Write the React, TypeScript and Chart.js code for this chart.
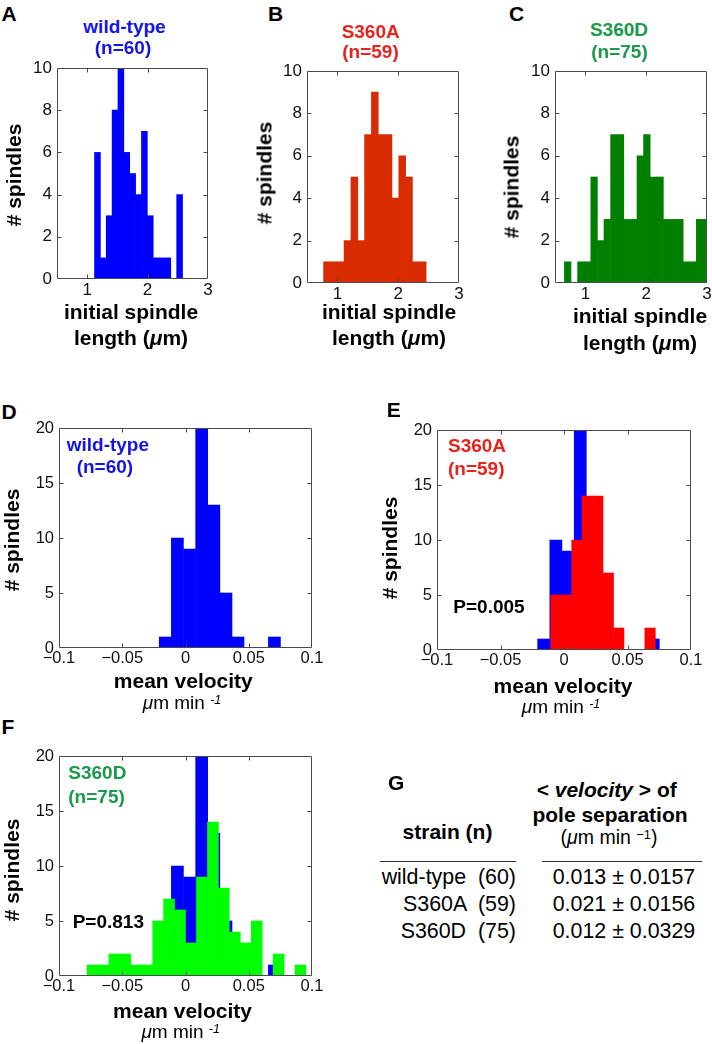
import React, { useEffect, useRef } from 'react';
import { Chart, registerables } from 'chart.js';

Chart.register(...registerables);

const FONT = "'Liberation Sans', Arial, Helvetica, sans-serif";

// ---------------- data: initial spindle length (panels A–C) ----------------
const LENGTH_X_TICKS = [1, 2, 3];
const LENGTH_X_LABELS = ['1', '2', '3'];
const LENGTH_Y_TICKS = [0, 2, 4, 6, 8, 10];

const WT_LENGTH_BINS = [1.170, 1.267, 1.364, 1.461, 1.558, 1.655, 1.753, 1.850, 1.947, 2.044, 2.141, 2.238, 2.335, 2.432, 2.530];
const WT_LENGTH_COUNTS = [6, 1, 3, 8, 10, 6, 5, 4, 7, 3, 1, 1, 1, 0, 4];

const S360A_LENGTH_BINS = [0.829, 0.941, 1.054, 1.166, 1.279, 1.391, 1.503, 1.616, 1.728, 1.841, 1.953, 2.066, 2.178, 2.290, 2.403];
const S360A_LENGTH_COUNTS = [1, 1, 1, 2, 5, 2, 7, 9, 7, 7, 4, 6, 5, 1, 1];

const S360D_LENGTH_BINS = [0.709, 0.818, 0.926, 1.035, 1.143, 1.252, 1.360, 1.469, 1.577, 1.686, 1.794, 1.903, 2.011, 2.120, 2.228, 2.337, 2.445, 2.554, 2.662, 2.771, 2.879, 2.988];
const S360D_LENGTH_COUNTS = [1, 0, 1, 1, 5, 2, 3, 7, 7, 3, 3, 6, 7, 5, 5, 3, 3, 3, 1, 1, 3, 3];

// ---------------- data: mean velocity (panels D–F) ----------------
const VELOCITY_X_TICKS = [-0.1, -0.05, 0, 0.05, 0.1];
const VELOCITY_X_LABELS = ['\u22120.1', '\u22120.05', '0', '0.05', '0.1'];
const VELOCITY_Y_TICKS = [0, 5, 10, 15, 20];

const WT_VELOCITY_BINS = [-0.0160, -0.0064, 0.0032, 0.0128, 0.0224, 0.0320, 0.0415, 0.0511, 0.0607, 0.0703];
const WT_VELOCITY_COUNTS = [1, 10, 9, 20, 13, 5, 1, 0, 0, 1];

const S360A_VELOCITY_BINS = [-0.0063, 0.0019, 0.0102, 0.0184, 0.0266, 0.0349, 0.0431, 0.0513, 0.0596, 0.0678];
const S360A_VELOCITY_COUNTS = [5, 5, 10, 14, 14, 7, 2, 0, 0, 2];

const S360D_VELOCITY_BINS = [-0.0735, -0.0649, -0.0562, -0.0476, -0.0389, -0.0303, -0.0216, -0.0130, -0.0043, 0.0044, 0.0130, 0.0217, 0.0303, 0.0390, 0.0476, 0.0563, 0.0649, 0.0736, 0.0822, 0.0909];
const S360D_VELOCITY_COUNTS = [1, 1, 2, 2, 1, 1, 5, 7, 6, 3, 9, 14, 8, 4, 3, 5, 0, 2, 0, 1];

// ---------------- data: table G ----------------
const STRAINS = ['wild-type', 'S360A', 'S360D'];
const STRAIN_N = [60, 59, 75];
const MEAN_VELOCITY = ['0.013', '0.021', '0.012'];
const SD_VELOCITY = ['0.0157', '0.0156', '0.0329'];

// ---------------- styling ----------------
const BLUE = '#0000ff';
const ORANGE_RED = '#d82b00';
const DARK_GREEN = '#007f00';
const RED = '#ff0000';
const LIME = '#00ff00';
const TXT_BLUE = '#1414e6';
const TXT_RED = '#e8231c';
const TXT_GREEN = '#1a9a4a';

const YW = 40;
const PT = 22;
const PR = 22;
const XH = 30;

type Rect = { l: number; t: number; r: number; b: number };
type Series = { bins: number[]; counts: number[]; color: string };

function framePlugin(xTicks: number[], yTicks: number[]) {
  return {
    id: 'matlabFrame',
    afterDatasetsDraw(chart: any) {
      const { ctx, chartArea } = chart;
      const xs = chart.scales.x0;
      const ys = chart.scales.y;
      const L = Math.round(chartArea.left) + 0.5;
      const R = Math.round(chartArea.right) - 0.5;
      const T = Math.round(chartArea.top) + 0.5;
      const B = Math.round(chartArea.bottom) - 0.5;
      const len = 4;
      ctx.save();
      ctx.strokeStyle = '#4a4a4a';
      ctx.lineWidth = 1;
      ctx.beginPath();
      ctx.rect(L, T, R - L, B - T);
      xTicks.forEach((v) => {
        const p = Math.round(xs.getPixelForValue(v)) + 0.5;
        if (p > L + 1 && p < R - 1) {
          ctx.moveTo(p, B);
          ctx.lineTo(p, B - len);
          ctx.moveTo(p, T);
          ctx.lineTo(p, T + len);
        }
      });
      yTicks.forEach((v) => {
        const p = Math.round(ys.getPixelForValue(v)) + 0.5;
        if (p > T + 1 && p < B - 1) {
          ctx.moveTo(L, p);
          ctx.lineTo(L + len, p);
          ctx.moveTo(R, p);
          ctx.lineTo(R - len, p);
        }
      });
      ctx.stroke();
      ctx.restore();
    },
  };
}

function Histogram(props: {
  rect: Rect;
  xMin: number;
  xMax: number;
  xTicks: number[];
  xLabels: string[];
  yMax: number;
  yTicks: number[];
  series: Series[];
  tickSize: number;
}) {
  const { rect, xMin, xMax, xTicks, xLabels, yMax, yTicks, series, tickSize } = props;
  const ref = useRef<HTMLCanvasElement>(null);
  const width = rect.r - rect.l + YW + PR;
  const height = rect.b - rect.t + PT + XH;

  useEffect(() => {
    const scales: any = {};
    series.forEach((_s, i) => {
      scales['x' + i] = {
        type: 'linear',
        position: 'bottom',
        display: i === 0,
        min: xMin,
        max: xMax,
        offset: false,
        afterBuildTicks: (ax: any) => {
          ax.ticks = xTicks.map((v) => ({ value: v }));
        },
        afterFit: (ax: any) => {
          ax.height = i === 0 ? XH : 0;
        },
        grid: { display: false, drawTicks: false, offset: false },
        border: { display: false },
        ticks: {
          padding: 1,
          color: '#111',
          autoSkip: false,
          maxRotation: 0,
          minRotation: 0,
          font: { family: FONT, size: tickSize },
          callback: (_v: any, idx: number) => xLabels[idx],
        },
      };
    });
    scales.y = {
      type: 'linear',
      position: 'left',
      min: 0,
      max: yMax,
      afterBuildTicks: (ax: any) => {
        ax.ticks = yTicks.map((v) => ({ value: v }));
      },
      afterFit: (ax: any) => {
        ax.width = YW;
      },
      grid: { display: false, drawTicks: false },
      border: { display: false },
      ticks: {
        padding: 5,
        color: '#111',
        font: { family: FONT, size: tickSize },
        callback: (v: any) => String(v),
      },
    };

    const chart = new Chart(ref.current as HTMLCanvasElement, {
      type: 'bar',
      data: {
        datasets: series.map((s, i) => ({
          data: s.bins.map((x, j) => ({ x, y: s.counts[j] })),
          backgroundColor: s.color,
          borderWidth: 0,
          barPercentage: 1,
          categoryPercentage: 1,
          grouped: false,
          xAxisID: 'x' + i,
          yAxisID: 'y',
          order: i,
          clip: 0,
        })) as any,
      },
      options: {
        responsive: false,
        animation: false,
        events: [],
        layout: { padding: { top: PT, right: PR, left: 0, bottom: 0 } },
        plugins: {
          legend: { display: false },
          tooltip: { enabled: false },
          title: { display: false },
        },
        scales,
      } as any,
      plugins: [framePlugin(xTicks, yTicks)],
    });
    return () => chart.destroy();
  }, []);

  return (
    <canvas
      ref={ref}
      width={width}
      height={height}
      style={{ position: 'absolute', left: rect.l - YW, top: rect.t - PT, width, height }}
    />
  );
}

function Txt(props: {
  x: number;
  y: number;
  size: number;
  align?: 'left' | 'center' | 'right';
  bold?: boolean;
  color?: string;
  children: React.ReactNode;
}) {
  const { x, y, size, align = 'left', bold = false, color = '#000', children } = props;
  const tx = align === 'center' ? '-50%' : align === 'right' ? '-100%' : '0';
  return (
    <div
      style={{
        position: 'absolute',
        left: x,
        top: y - 0.8465 * size,
        fontSize: size,
        lineHeight: `${size}px`,
        fontWeight: bold ? 'bold' : 'normal',
        color,
        fontFamily: FONT,
        whiteSpace: 'pre',
        transform: `translateX(${tx})`,
      }}
    >
      {children}
    </div>
  );
}

function YTitle(props: { cx: number; cy: number; children: React.ReactNode }) {
  return (
    <div
      style={{
        position: 'absolute',
        left: props.cx,
        top: props.cy,
        transform: 'translate(-50%, -50%) rotate(-90deg)',
        fontSize: 21,
        lineHeight: '21px',
        fontWeight: 'bold',
        fontFamily: FONT,
        whiteSpace: 'nowrap',
        color: '#000',
      }}
    >
      {props.children}
    </div>
  );
}

const Sup = (props: { children: React.ReactNode; italic?: boolean }) => (
  <span
    style={{
      position: 'relative',
      top: '-0.45em',
      fontSize: '0.66em',
      fontStyle: props.italic ? 'italic' : 'normal',
    }}
  >
    {props.children}
  </span>
);

const VelUnits = () => (
  <>
    <i>μ</i>m min <Sup italic>-1</Sup>
  </>
);

const RECT_A: Rect = { l: 57, t: 68, r: 208, b: 279 };
const RECT_B: Rect = { l: 307, t: 71, r: 459, b: 283 };
const RECT_C: Rect = { l: 555, t: 71, r: 707, b: 283 };
const RECT_D: Rect = { l: 59, t: 428, r: 312, b: 648 };
const RECT_E: Rect = { l: 437, t: 430, r: 691, b: 650 };
const RECT_F: Rect = { l: 59, t: 756, r: 312, b: 976 };

export default function App() {
  const lengthAxis = {
    xMin: 0.5,
    xMax: 3,
    xTicks: LENGTH_X_TICKS,
    xLabels: LENGTH_X_LABELS,
    yMax: 10,
    yTicks: LENGTH_Y_TICKS,
    tickSize: 17,
  };
  const velocityAxis = {
    xMin: -0.1,
    xMax: 0.1,
    xTicks: VELOCITY_X_TICKS,
    xLabels: VELOCITY_X_LABELS,
    yMax: 20,
    yTicks: VELOCITY_Y_TICKS,
    tickSize: 16.5,
  };
  const wtVel: Series = { bins: WT_VELOCITY_BINS, counts: WT_VELOCITY_COUNTS, color: BLUE };

  return (
    <div
      style={{
        position: 'absolute',
        left: 0,
        top: 0,
        width: 712,
        height: 1044,
        overflow: 'hidden',
        background: '#fff',
        fontFamily: FONT,
      }}
    >
      <Histogram rect={RECT_A} {...lengthAxis} series={[{ bins: WT_LENGTH_BINS, counts: WT_LENGTH_COUNTS, color: BLUE }]} />
      <Histogram rect={RECT_B} {...lengthAxis} series={[{ bins: S360A_LENGTH_BINS, counts: S360A_LENGTH_COUNTS, color: ORANGE_RED }]} />
      <Histogram rect={RECT_C} {...lengthAxis} series={[{ bins: S360D_LENGTH_BINS, counts: S360D_LENGTH_COUNTS, color: DARK_GREEN }]} />
      <Histogram rect={RECT_D} {...velocityAxis} series={[wtVel]} />
      <Histogram
        rect={RECT_E}
        {...velocityAxis}
        series={[{ bins: S360A_VELOCITY_BINS, counts: S360A_VELOCITY_COUNTS, color: RED }, wtVel]}
      />
      <Histogram
        rect={RECT_F}
        {...velocityAxis}
        series={[{ bins: S360D_VELOCITY_BINS, counts: S360D_VELOCITY_COUNTS, color: LIME }, wtVel]}
      />

      {/* panel letters */}
      <Txt x={1.5} y={20.7} size={21} bold>A</Txt>
      <Txt x={268} y={20.7} size={21} bold>B</Txt>
      <Txt x={509} y={20.7} size={21} bold>C</Txt>
      <Txt x={1.5} y={418.3} size={21} bold>D</Txt>
      <Txt x={386.7} y={416.7} size={21} bold>E</Txt>
      <Txt x={1.5} y={733.3} size={21} bold>F</Txt>
      <Txt x={388} y={789.3} size={21} bold>G</Txt>

      {/* titles A–C */}
      <Txt x={124.5} y={33.5} size={19} bold align="center" color={TXT_BLUE}>wild-type</Txt>
      <Txt x={123} y={54.5} size={19} bold align="center" color={TXT_BLUE}>(n=60)</Txt>
      <Txt x={370.7} y={38} size={19} bold align="center" color={TXT_RED}>S360A</Txt>
      <Txt x={370.5} y={58} size={19} bold align="center" color={TXT_RED}>(n=59)</Txt>
      <Txt x={619} y={36.5} size={19} bold align="center" color={TXT_GREEN}>S360D</Txt>
      <Txt x={619.5} y={58} size={19} bold align="center" color={TXT_GREEN}>(n=75)</Txt>

      {/* x titles A–C */}
      <Txt x={131} y={318.5} size={21} bold align="center">initial spindle</Txt>
      <Txt x={131} y={345} size={21} bold align="center">length (<i>μ</i>m)</Txt>
      <Txt x={389} y={318.5} size={21} bold align="center">initial spindle</Txt>
      <Txt x={389} y={345} size={21} bold align="center">length (<i>μ</i>m)</Txt>
      <Txt x={640} y={322.5} size={21} bold align="center">initial spindle</Txt>
      <Txt x={640} y={350} size={21} bold align="center">length (<i>μ</i>m)</Txt>

      {/* y titles */}
      <YTitle cx={13} cy={175}># spindles</YTitle>
      <YTitle cx={264} cy={173}># spindles</YTitle>
      <YTitle cx={511} cy={186.7}># spindles</YTitle>
      <YTitle cx={11} cy={540}># spindles</YTitle>
      <YTitle cx={389} cy={548}># spindles</YTitle>
      <YTitle cx={11} cy={870}># spindles</YTitle>

      {/* in-plot annotations D–F */}
      <Txt x={66.7} y={451.5} size={19} bold color={TXT_BLUE}>wild-type</Txt>
      <Txt x={76.7} y={472.7} size={19} bold color={TXT_BLUE}>(n=60)</Txt>
      <Txt x={448} y={451.7} size={19} bold color={TXT_RED}>S360A</Txt>
      <Txt x={448} y={475} size={19} bold color={TXT_RED}>(n=59)</Txt>
      <Txt x={453.3} y={613.3} size={19} bold>P=0.005</Txt>
      <Txt x={68.3} y={779.3} size={19} bold color={TXT_GREEN}>S360D</Txt>
      <Txt x={68.3} y={802.7} size={19} bold color={TXT_GREEN}>(n=75)</Txt>
      <Txt x={72.7} y={928.3} size={19} bold>P=0.813</Txt>

      {/* x titles D–F */}
      <Txt x={183.3} y={688} size={21} bold align="center">mean velocity</Txt>
      <Txt x={182} y={709.3} size={19} align="center"><VelUnits /></Txt>
      <Txt x={563} y={692.5} size={21} bold align="center">mean velocity</Txt>
      <Txt x={561} y={713.3} size={19} align="center"><VelUnits /></Txt>
      <Txt x={182.5} y={1017.7} size={21} bold align="center">mean velocity</Txt>
      <Txt x={180.7} y={1038.3} size={19} align="center"><VelUnits /></Txt>

      {/* table G */}
      <Txt x={606.7} y={796.7} size={21} bold align="center">
        {'< '}<i>velocity</i>{' > of'}
      </Txt>
      <Txt x={610} y={821.7} size={21} bold align="center">pole separation</Txt>
      <Txt x={609} y={845} size={19.5} align="center">
        (<i>μ</i>m min <Sup>−1</Sup>)
      </Txt>
      <Txt x={447.5} y={839} size={21} bold align="center">strain (n)</Txt>
      <div style={{ position: 'absolute', left: 380, top: 860.5, width: 136, height: 1, background: '#333' }} />
      <div style={{ position: 'absolute', left: 542, top: 860.5, width: 160, height: 1, background: '#333' }} />
      {STRAINS.map((s, i) => (
        <React.Fragment key={s}>
          <Txt x={516} y={885 + i * 27.3} size={21.4} align="right">{`${s}  (${STRAIN_N[i]})`}</Txt>
          <Txt x={552.7} y={885 + i * 27.3} size={21.4}>{`${MEAN_VELOCITY[i]} ± ${SD_VELOCITY[i]}`}</Txt>
        </React.Fragment>
      ))}
    </div>
  );
}
